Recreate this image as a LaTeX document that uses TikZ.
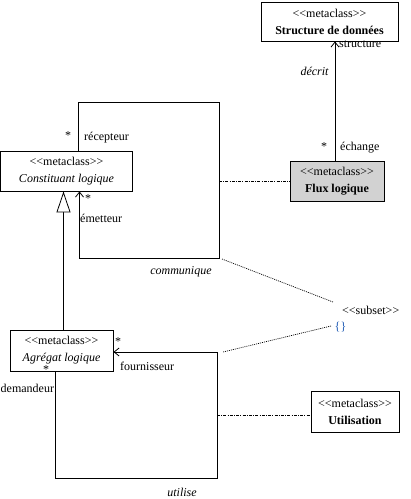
\documentclass[tikz,border=0pt]{standalone}
\usepackage{fontspec}
\setmainfont{Liberation Serif}
\usetikzlibrary{arrows.meta}
\newcommand\mylt{<\kern0pt<}
\newcommand\mygt{>\kern0pt>}
\begin{document}
\begin{tikzpicture}[x=1pt,y=-1pt,
  font=\fontsize{12}{17}\selectfont,
  cls/.style={draw, line width=0.9pt, inner sep=0pt, align=center},
  lbl/.style={inner sep=0pt},
  assoc/.style={line width=0.9pt},
  veeend/.style={-{Straight Barb[length=5pt,width=8pt,line width=0.8pt]}},
  inherit/.style={line width=0.9pt,-{Triangle[open,length=21pt,width=14pt,fill=white,line width=0.8pt]}},
  dashdot/.style={line width=0.7pt, dash pattern=on 3pt off 1.2pt on 1pt off 1.2pt},
  dotline/.style={line width=0.7pt, dash pattern=on 1pt off 1pt}]
\useasboundingbox (0,0) rectangle (411,499);
\definecolor{fluxgray}{RGB}{210,210,210}
\definecolor{braceblue}{RGB}{30,90,180}

% classes
\node[cls, minimum width=137pt, minimum height=39pt] (sdd) at (329.5,21.5)
  {\mylt metaclass\mygt\\\textbf{Structure de données}};
\node[cls, fill=fluxgray, minimum width=94pt, minimum height=40pt] (flux) at (337,181)
  {\mylt metaclass\mygt\\\textbf{Flux logique}};
\node[cls, minimum width=132pt, minimum height=40pt] (cons) at (66.5,171)
  {\mylt metaclass\mygt\\\textit{Constituant logique}};
\node[cls, minimum width=103pt, minimum height=41pt] (agr) at (61.5,350.5)
  {\mylt metaclass\mygt\\\textit{Agrégat logique}};
\node[cls, minimum width=88pt, minimum height=41pt] (util) at (355,411.5)
  {\mylt metaclass\mygt\\\textbf{Utilisation}};

% décrit
\coordinate (dx) at (335,0);
\draw[assoc, veeend] (flux.north -| dx) -- (sdd.south -| dx);
\node[lbl, anchor=west] (lstruct) at (339,44) {structure};
\node[lbl, anchor=east] (ldecrit) at (329,71) {\textit{décrit}};
\node[lbl] (sflux) at (324,147) {*};
\node[lbl, anchor=west] (lechange) at (340,148) {échange};

% communique loop
\coordinate (c1) at (78.5,102);
\coordinate (c2) at (219,102);
\coordinate (c3) at (219,258.5);
\coordinate (c4) at (79.5,258.5);
\draw[assoc, veeend] (cons.north -| c1) -- (c1) -- (c2) -- (c3) -- (c4) -- (cons.south -| c4);
\node[lbl] (srec) at (68,136) {*};
\node[lbl, anchor=west] (lrec) at (84,138) {récepteur};
\node[lbl] (sem) at (88,199) {*};
\node[lbl, anchor=west] (lem) at (80,218) {émetteur};
\node[lbl] (lcomm) at (181,272) {\textit{communique}};
\coordinate (cm) at (219,181.5);
\draw[dashdot] (cm) -- (flux.west |- cm);

% inheritance
\coordinate (inh) at (63.5,0);
\draw[inherit] (agr.north -| inh) -- (cons.south -| inh);

% utilise loop
\coordinate (u1) at (55,478);
\coordinate (u2) at (217,478);
\coordinate (u3) at (217,352);
\draw[assoc, veeend] (agr.south -| u1) -- (u1) -- (u2) -- (u3) -- (agr.east |- u3);
\node[lbl] (sfour) at (118,342) {*};
\node[lbl, anchor=west] (lfour) at (120,366) {fournisseur};
\node[lbl] (sdem) at (46,370) {*};
\node[lbl, anchor=west] (ldem) at (0.5,388) {demandeur};
\node[lbl] (lutil) at (182,492) {\textit{utilise}};
\coordinate (um) at (217,415);
\draw[dashdot] (um) -- (util.west |- um);

% subset constraint
\node[lbl, anchor=west] (subset) at (342,310) {\mylt subset\mygt};
\node[lbl, text=braceblue] (brace) at (340.5,327) {\{\}};
\coordinate (e1) at (222,259);
\coordinate (e2) at (333,302);
\coordinate (e3) at (331,326);
\coordinate (e4) at (223,352);
\draw[dotline] (e1) -- (e2);
\draw[dotline] (e3) -- (e4);
\end{tikzpicture}
\end{document}
